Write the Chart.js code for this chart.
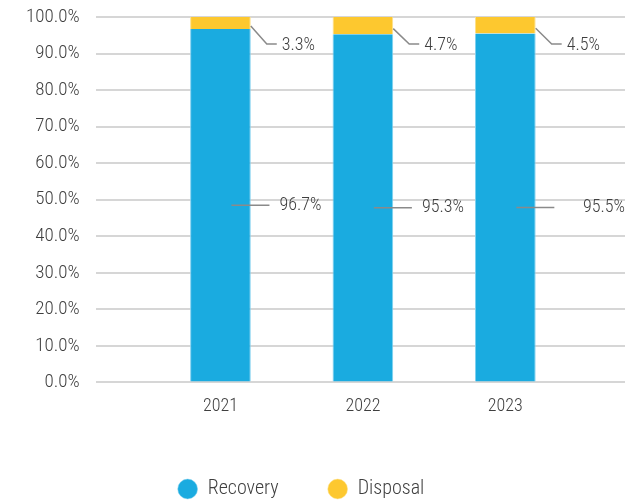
<!DOCTYPE html>
<html>
<head>
<meta charset="utf-8">
<script src="https://cdn.jsdelivr.net/npm/chart.js@4.4.1/dist/chart.umd.min.js"></script>
<style>
  html, body { margin: 0; padding: 0; background: #fff; }
  #wrap { width: 626px; height: 503px; position: relative; }
</style>
</head>
<body>
<div id="wrap"><canvas id="c"></canvas></div>
<script>
const categories = ['2021', '2022', '2023'];
const recovery = [96.7, 95.3, 95.5];
const disposal = [3.3, 4.7, 4.5];
const seriesNames = ['Recovery', 'Disposal'];
const yTicks = [0, 10, 20, 30, 40, 50, 60, 70, 80, 90, 100];

const FAMILY = 'Roboto';
const WEIGHT = '300 condensed';
const TEXT = '#3f3f3f';
const BLUE = '#1AABE0';
const YELLOW = '#FDC82F';

const years = categories.map(Number);

const leaderPlugin = {
  id: 'leaders',
  beforeDraw(chart) {
    // centre the legend row where the reference has it
    const lg = chart.legend;
    if (lg && !lg._shifted) {
      const shift = 301 - (lg.left + lg.right) / 2;
      lg.left += shift; lg.right += shift;
      lg._shifted = true;
    }
  },
  afterDatasetsDraw(chart) {
    const ctx = chart.ctx;
    const m0 = chart.getDatasetMeta(0);
    const m1 = chart.getDatasetMeta(1);
    const yTop = chart.scales.y.getPixelForValue(100);
    ctx.save();
    ctx.strokeStyle = '#8a8a8a';
    ctx.lineWidth = 1.5;
    ctx.fillStyle = TEXT;
    ctx.font = WEIGHT + ' 18px ' + FAMILY;
    ctx.textBaseline = 'middle';
    m0.data.forEach((bar, i) => {
      const p = bar.getProps(['x', 'y', 'base'], true);
      const cy = (p.y + p.base) / 2;
      ctx.beginPath();
      ctx.moveTo(p.x + 11, cy);
      ctx.lineTo(p.x + 49, cy);
      ctx.stroke();
      const txt = recovery[i].toFixed(1) + '%';
      if (i === m0.data.length - 1) {
        ctx.textAlign = 'right';
        ctx.fillText(txt, chart.chartArea.right, cy);
      } else {
        ctx.textAlign = 'left';
        ctx.fillText(txt, p.x + 59, cy);
      }
    });
    m1.data.forEach((bar, i) => {
      const p = bar.getProps(['x', 'y', 'base', 'width'], true);
      const right = p.x + p.width / 2;
      const cy = (p.y + p.base) / 2 + 3;
      const ey = yTop + 27;
      ctx.beginPath();
      ctx.moveTo(right, cy);
      ctx.lineTo(right + 16, ey);
      ctx.lineTo(right + 26, ey);
      ctx.stroke();
      ctx.textAlign = 'left';
      ctx.fillText(disposal[i].toFixed(1) + '%', right + 31, ey + 1);
    });
    ctx.restore();
  }
};

new Chart(document.getElementById('c'), {
  type: 'bar',
  data: {
    datasets: [
      {
        label: seriesNames[0],
        data: years.map((y, i) => ({ x: y, y: recovery[i] })),
        backgroundColor: BLUE,
        borderColor: '#7fd0ef',
        borderWidth: { left: 1, right: 1, top: 0, bottom: 0 },
        borderSkipped: false,
        barPercentage: 0.426,
        categoryPercentage: 1
      },
      {
        label: seriesNames[1],
        data: years.map((y, i) => ({ x: y, y: disposal[i] })),
        backgroundColor: YELLOW,
        borderColor: '#fde08a',
        borderWidth: { left: 1, right: 1, top: 0, bottom: 0 },
        borderSkipped: false,
        barPercentage: 0.426,
        categoryPercentage: 1
      }
    ]
  },
  options: {
    responsive: true,
    maintainAspectRatio: false,
    animation: false,
    layout: { padding: { top: 0, right: 1, left: 10, bottom: -6 } },
    plugins: {
      tooltip: { enabled: false },
      legend: {
        position: 'bottom',
        labels: {
          usePointStyle: true,
          pointStyle: 'circle',
          boxHeight: 14,
          padding: 49,
          color: TEXT,
          font: { family: FAMILY, weight: WEIGHT, size: 20 }
        }
      }
    },
    scales: {
      x: {
        type: 'linear',
        stacked: true,
        offset: false,
        min: 2020.124,
        max: 2023.84,
        grid: { display: false, drawTicks: false },
        border: { display: false },
        afterBuildTicks(scale) { scale.ticks = years.map(v => ({ value: v })); },
        ticks: {
          color: TEXT,
          font: { family: FAMILY, weight: WEIGHT, size: 18 },
          padding: 13,
          callback: (v) => String(v)
        }
      },
      y: {
        stacked: true,
        min: 0,
        max: 100,
        afterBuildTicks(scale) { scale.ticks = yTicks.map(v => ({ value: v })); },
        afterFit(scale) { scale.paddingTop = 17; },
        grid: { color: '#d6d6d6', lineWidth: 2, drawTicks: false },
        border: { display: false },
        ticks: {
          color: TEXT,
          padding: 16,
          font: { family: FAMILY, weight: WEIGHT, size: 19 },
          callback: (v) => Number(v).toFixed(1) + '%'
        }
      }
    }
  },
  plugins: [leaderPlugin]
});
</script>
</body>
</html>
